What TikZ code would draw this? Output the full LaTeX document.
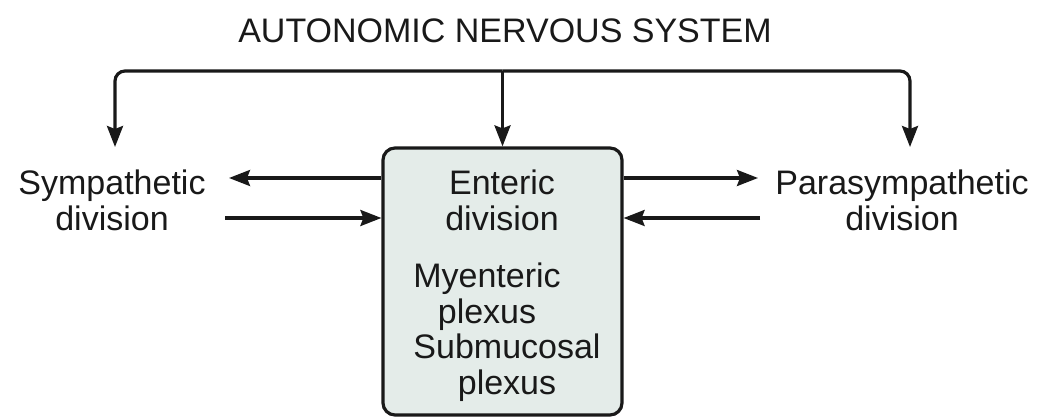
\documentclass[tikz,border=0pt]{standalone}
\usepackage{fontspec}
\setmainfont{Liberation Sans}
\usetikzlibrary{arrows.meta}
\definecolor{boxfill}{RGB}{228,236,233}
\definecolor{ink}{RGB}{25,25,25}
\begin{document}
\begin{tikzpicture}[x=1pt,y=-1pt,
  lbl/.style={font=\fontsize{34}{36}\selectfont, text=ink, align=center, inner sep=0pt},
  ln/.style={line width=3.2pt, draw=ink},
  arr/.style={ln, -{Stealth[length=21pt,width=16pt,inset=3pt]}},
  ensbox/.style={draw=ink, line width=3.2pt, fill=boxfill, rounded corners=12pt,
    minimum width=239pt, minimum height=267pt, inner sep=0pt}]
\useasboundingbox (0,0) rectangle (1048,419);
\node[lbl] (title) at (505,31) {AUTONOMIC NERVOUS SYSTEM};
\node[ensbox] (ens) at (502.5,281.5) {};
\node[lbl] (ent) at (502,200) {Enteric\\division};
\node[lbl] (mye) at (487,297) {Myenteric\\plexus};
\node[lbl] (sub) at (507,368) {Submucosal\\plexus};
\node[lbl] (symp) at (112,200) {Sympathetic\\division};
\node[lbl] (para) at (902,200) {Parasympathetic\\division};
% top distribution
\coordinate (barL) at (115,71);
\coordinate (barR) at (910,71);
\coordinate (tipL) at (115,147);
\coordinate (tipR) at (910,147);
\coordinate (barC) at (ens.north |- barL);
\draw[ln, rounded corners=10pt, -{Stealth[length=21pt,width=16pt,inset=3pt]}] (barC) -| (tipL);
\draw[ln, rounded corners=10pt, -{Stealth[length=21pt,width=16pt,inset=3pt]}] (barC) -| (tipR);
\draw[arr] (barC) -- (ens.north);
% left arrows
\coordinate (sL1) at (229,178);
\coordinate (sL2) at (225,218);
\draw[arr] (ens.west |- sL1) -- (sL1);
\draw[arr] (sL2) -- (ens.west |- sL2);
% right arrows
\coordinate (pR1) at (758,178);
\coordinate (pR2) at (760,218);
\draw[arr] (ens.east |- pR1) -- (pR1);
\draw[arr] (pR2) -- (ens.east |- pR2);
\end{tikzpicture}
\end{document}
